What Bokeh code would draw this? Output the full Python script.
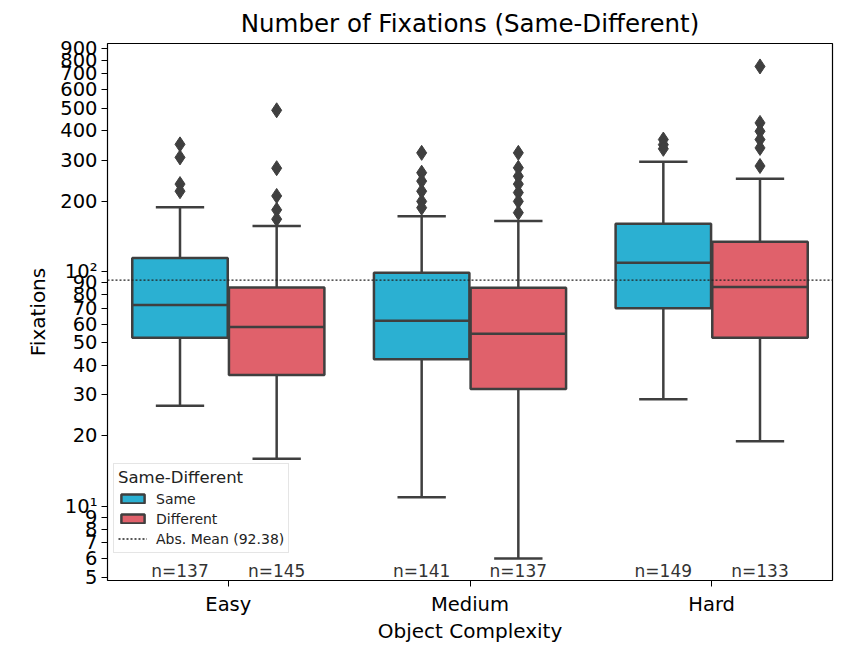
from bokeh.plotting import figure
from bokeh.models import (Range1d, FixedTicker, Legend, LegendItem,
                          PrintfTickFormatter)
from bokeh.core.properties import value
from bokeh.embed import file_html
from bokeh.resources import INLINE

# ---------------- data ----------------
categories = ["Easy", "Medium", "Hard"]
hues = ["Same", "Different"]

same_q1 = [52.4, 42.5, 70.1]
same_med = [72.4, 61.9, 109.5]
same_q3 = [114.7, 99.3, 160.5]
same_lo = [26.9, 10.95, 28.7]
same_hi = [189, 173, 295]
same_out = [[350, 308, 237, 221],
            [322, 265, 244, 221, 200, 188],
            [367, 349, 335]]
same_n = [137, 141, 149]

diff_q1 = [36.4, 31.7, 52.5]
diff_med = [58.3, 54.6, 86.3]
diff_q3 = [85.8, 85.7, 134.6]
diff_lo = [16.0, 6.0, 19.0]
diff_hi = [157, 165, 250]
diff_out = [[489, 277, 211, 184, 168],
            [322, 278, 256, 237, 218, 200, 179],
            [752, 432, 398, 367, 338, 283]]
diff_n = [145, 137, 133]

abs_mean = 92.38

y_ticks = [5, 6, 7, 8, 9, 10, 20, 30, 40, 50, 60, 70, 80, 90,
           100, 200, 300, 400, 500, 600, 700, 800, 900]

# ---------------- styling ----------------
FONT = "DejaVu Sans"
EDGE = "#3f3f3f"
COLORS = {"Same": "#2bb0d2", "Different": "#e0616b"}
BOX_W = 0.395
CAP_W = 0.2
OFFSET = {"Same": -0.2, "Different": 0.2}
N_LABEL_Y = 5.3

p = figure(width=843, height=645, output_backend="svg", toolbar_location=None,
           y_axis_type="log", x_range=Range1d(0, 3), y_range=Range1d(4.84, 942),
           title="Number of Fixations (Same-Different)",
           min_border_left=107, min_border_right=11, min_border_top=42,
           min_border_bottom=65)

p.background_fill_color = "white"
p.border_fill_color = "white"
p.outline_line_color = "black"
p.outline_line_width = 1.2
p.xgrid.visible = False
p.ygrid.visible = False

p.title.align = "center"
p.title.text_font = FONT
p.title.text_font_size = "24.5px"
p.title.text_font_style = "normal"
p.title.text_color = "black"
p.title.standoff = 12

# axes
p.xaxis.ticker = FixedTicker(ticks=[i + 0.5 for i in range(len(categories))])
p.xaxis.major_label_overrides = {i + 0.5: c for i, c in enumerate(categories)}
p.xaxis.axis_label = "Object Complexity"
p.yaxis.axis_label = "Fixations"
p.yaxis.ticker = FixedTicker(ticks=y_ticks, minor_ticks=[])
p.yaxis.formatter = PrintfTickFormatter(format="%d")
ov = {}
for t in y_ticks:
    if t == 10:
        ov[t] = "10\u00b9"
    elif t == 100:
        ov[t] = "10\u00b2"
    else:
        ov[t] = str(t)
p.yaxis.major_label_overrides = ov

for ax in (p.xaxis[0], p.yaxis[0]):
    ax.axis_line_color = None
    ax.major_tick_line_color = "black"
    ax.minor_tick_line_color = None
    ax.major_tick_in = 0
    ax.major_tick_out = 6
    ax.major_label_text_font = FONT
    ax.major_label_text_font_size = "19.5px"
    ax.major_label_text_color = "black"
    ax.axis_label_text_font = FONT
    ax.axis_label_text_font_size = "20px"
    ax.axis_label_text_font_style = "normal"
    ax.axis_label_text_color = "black"
p.yaxis.major_label_standoff = 4
p.yaxis.axis_label_standoff = 7
p.xaxis.major_label_standoff = 6
p.xaxis.axis_label_standoff = 0

# ---------------- boxes ----------------
series = {
    "Same": (same_q1, same_med, same_q3, same_lo, same_hi, same_out, same_n),
    "Different": (diff_q1, diff_med, diff_q3, diff_lo, diff_hi, diff_out, diff_n),
}

legend_items = []
for h in hues:
    q1, med, q3, lo, hi, outs, ns = series[h]
    xs = [i + 0.5 + OFFSET[h] for i in range(len(categories))]
    p.segment(x0=xs, y0=q3, x1=xs, y1=hi, line_color=EDGE, line_width=2.5)
    p.segment(x0=xs, y0=q1, x1=xs, y1=lo, line_color=EDGE, line_width=2.5)
    p.segment(x0=[x - CAP_W / 2 for x in xs], y0=hi, x1=[x + CAP_W / 2 for x in xs], y1=hi,
              line_color=EDGE, line_width=2.5)
    p.segment(x0=[x - CAP_W / 2 for x in xs], y0=lo, x1=[x + CAP_W / 2 for x in xs], y1=lo,
              line_color=EDGE, line_width=2.5)
    r = p.vbar(x=xs, width=BOX_W, top=q3, bottom=q1, fill_color=COLORS[h],
               line_color=EDGE, line_width=2.5)
    legend_items.append(LegendItem(label=h, renderers=[r]))
    p.segment(x0=[x - BOX_W / 2 for x in xs], y0=med, x1=[x + BOX_W / 2 for x in xs], y1=med,
              line_color=EDGE, line_width=2.5)
    ox, oy = [], []
    for x, o in zip(xs, outs):
        ox += [x] * len(o)
        oy += o
    p.scatter(x=ox, y=oy, marker="diamond", size=15, fill_color=EDGE, line_color=EDGE)
    p.text(x=xs, y=[N_LABEL_Y] * len(xs), text=["n=%d" % n for n in ns],
           text_font=value(FONT), text_font_size="17px", text_color="#333333",
           text_align="center", text_baseline="middle")

ml = p.line(x=[0, 3], y=[abs_mean, abs_mean], line_color="#222222", line_width=1.3,
            line_dash="2 2")
legend_items.append(LegendItem(label="Abs. Mean (%.2f)" % abs_mean, renderers=[ml]))

legend = Legend(items=legend_items, location=(6, 27), title="Same-Different")
legend.title_text_font = FONT
legend.title_text_font_size = "16.5px"
legend.title_text_font_style = "normal"
legend.title_text_color = "#222222"
legend.title_standoff = 2
legend.label_text_font = FONT
legend.label_text_font_size = "14px"
legend.label_text_color = "#222222"
legend.border_line_color = "#cccccc"
legend.border_line_width = 1
legend.background_fill_alpha = 0.9
legend.glyph_width = 29
legend.glyph_height = 11
legend.label_height = 19
legend.spacing = 1
legend.padding = 4
legend.margin = 0
legend.label_standoff = 9
p.add_layout(legend, "center")

open("out.html", "w").write(file_html(p, INLINE))
